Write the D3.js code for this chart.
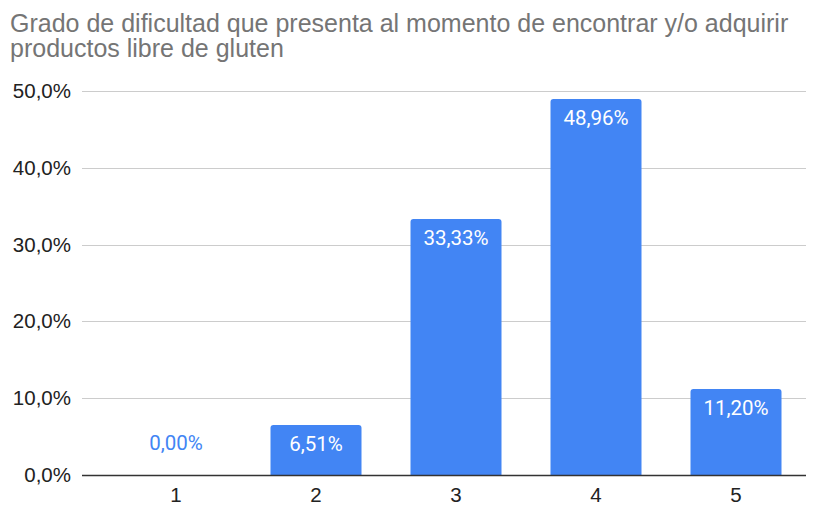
<!DOCTYPE html>
<html>
<head>
<meta charset="utf-8">
<script src="https://cdn.jsdelivr.net/npm/d3@7"></script>
<style>
  body { margin: 0; background: #fff; }
  svg { display: block; }
</style>
</head>
<body>
<svg id="canvas"></svg>
<script>
// chart data
const categories = ['1', '2', '3', '4', '5']
const values = [0.00, 6.51, 33.33, 48.96, 11.20]
const yTicks = [0, 10, 20, 30, 40, 50]
const titleLines = ['Grado de dificultad que presenta al momento de encontrar y/o adquirir', 'productos libre de gluten']

let width = 817
let height = 506
let svg = d3.select('#canvas')
    .attr('width', width)
    .attr('height', height)

// scales
let xScale = d3.scaleBand()
    .domain(categories)
    .range([106, 806])
    .paddingInner(0.35)
    .paddingOuter(0.175)

let yScale = d3.scaleLinear()
    .domain([0, 50])
    .range([475, 91])

const fmt = (v, d) => v.toFixed(d).replace('.', ',') + '%'

// title
svg.append('text')
    .attr('x', 10)
    .attr('y', 32)
    .attr('fill', '#757575')
    .style('font-family', 'Liberation Sans, Arial, sans-serif')
    .style('font-size', '25px')
    .selectAll('tspan')
    .data(titleLines)
    .enter()
    .append('tspan')
    .attr('x', 10)
    .attr('dy', (d, i) => i === 0 ? 0 : 25)
    .text(d => d)

// gridlines
svg.append('g')
    .selectAll('line')
    .data(yTicks.filter(t => t > 0))
    .enter()
    .append('line')
    .attr('x1', 82)
    .attr('x2', 806)
    .attr('y1', d => Math.round(yScale(d)) + 0.5)
    .attr('y2', d => Math.round(yScale(d)) + 0.5)
    .attr('stroke', '#cccccc')
    .attr('stroke-width', 1)

// y axis labels
let yAxis = d3.axisLeft(yScale)
    .tickValues(yTicks)
    .tickFormat(d => fmt(d, 1))
    .tickSize(0)
    .tickPadding(0)
svg.append('g')
    .attr('transform', 'translate(71,0)')
    .call(yAxis)
    .call(g => g.select('.domain').remove())
    .selectAll('text')
    .attr('fill', '#222')
    .style('font-family', 'Liberation Sans, Arial, sans-serif')
    .style('font-size', '20.5px')

// bars with slightly rounded top corners
const r = 3
svg.append('g')
    .selectAll('path')
    .data(values)
    .enter()
    .filter(d => d > 0)
    .append('path')
    .attr('fill', '#4285f4')
    .attr('d', (d, i) => {
        let idx = values.indexOf(d)
        let x0 = xScale(categories[idx])
        let x1 = x0 + xScale.bandwidth()
        let y0 = yScale(0)
        let y1 = yScale(d)
        return `M${x0},${y0}V${y1 + r}Q${x0},${y1} ${x0 + r},${y1}H${x1 - r}Q${x1},${y1} ${x1},${y1 + r}V${y0}Z`
    })

// value labels
svg.append('g')
    .selectAll('text')
    .data(values)
    .enter()
    .append('text')
    .attr('x', (d, i) => xScale(categories[i]) + xScale.bandwidth() / 2)
    .attr('y', d => d > 0 ? yScale(d) + 26 : yScale(0) - 25)
    .attr('text-anchor', 'middle')
    .attr('fill', d => d > 0 ? '#ffffff' : '#4285f4')
    .style('font-family', 'Roboto, sans-serif')
    .style('font-size', '20.5px')
    .text(d => fmt(d, 2))

// x axis baseline
svg.append('line')
    .attr('x1', 82)
    .attr('x2', 806)
    .attr('y1', 475.5)
    .attr('y2', 475.5)
    .attr('stroke', '#333')
    .attr('stroke-width', 1.5)

let xAxis = d3.axisBottom(xScale)
    .tickSize(0)
    .tickPadding(0)
svg.append('g')
    .attr('transform', 'translate(0,487)')
    .call(xAxis)
    .call(g => g.select('.domain').remove())
    .selectAll('text')
    .attr('fill', '#222')
    .style('font-family', 'Liberation Sans, Arial, sans-serif')
    .style('font-size', '20.5px')
</script>
</body>
</html>
